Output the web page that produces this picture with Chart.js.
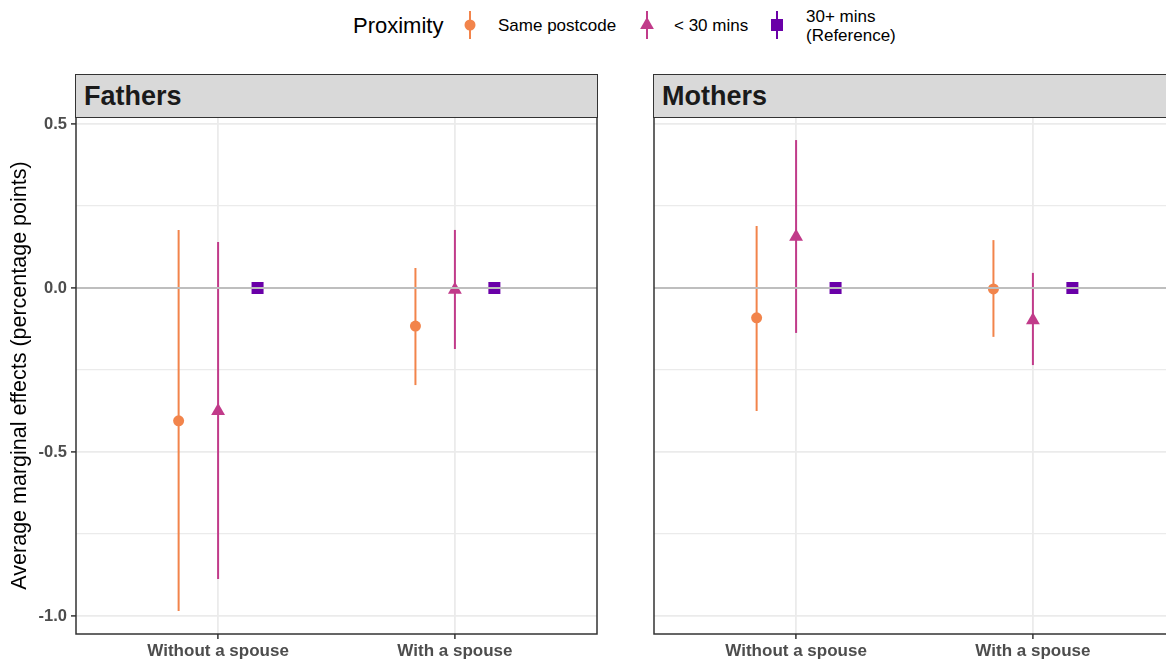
<!DOCTYPE html>
<html>
<head>
<meta charset="utf-8">
<script src="https://cdn.jsdelivr.net/npm/chart.js@4.4.1/dist/chart.umd.min.js"></script>
<style>
    body {
        margin: 0;
        width: 1166px;
        height: 664px;
        overflow: hidden;
        background: #fff;
        position: relative;
        font-family: "Liberation Sans", Arial, sans-serif;
    }

    canvas {
        position: absolute;
        top: 116px;
    }

    .strip {
        position: absolute;
        top: 74px;
        height: 44px;
        box-sizing: border-box;
        background: #D9D9D9;
        border: 1.5px solid #333;
        color: #1A1A1A;
        font-weight: bold;
        font-size: 27px;
        line-height: 42px;
        padding-left: 8px;
        z-index: 2;
    }

    .leg {
        position: absolute;
        color: #000;
        white-space: nowrap;
    }
</style>
</head>
<body>

<div class="leg" style="left:353px; top:13px; font-size:22px;">Proximity</div>

<svg class="leg" style="left:460px; top:11px;" width="20" height="30">
    <line x1="10" y1="0" x2="10" y2="28" stroke="#F2844B" stroke-width="2"/>
    <circle cx="10" cy="14" r="5.5" fill="#F2844B"/>
</svg>
<div class="leg" style="left:498px; top:16px; font-size:17px;">Same postcode</div>

<svg class="leg" style="left:637px; top:11px;" width="20" height="30">
    <line x1="10" y1="0" x2="10" y2="28" stroke="#C13B8A" stroke-width="2"/>
    <polygon points="10,6 16.9,18 3.1,18" fill="#C13B8A"/>
</svg>
<div class="leg" style="left:674px; top:16px; font-size:17px;">&lt; 30 mins</div>

<svg class="leg" style="left:767px; top:11px;" width="20" height="30">
    <line x1="10" y1="0" x2="10" y2="28" stroke="#6A00A8" stroke-width="2"/>
    <rect x="4" y="8" width="12" height="12" fill="#6A00A8"/>
</svg>
<div class="leg" style="left:806px; top:7px; font-size:17px; line-height:19px;">30+ mins<br>(Reference)</div>

<div class="strip" style="left:75px; width:523px;">Fathers</div>
<div class="strip" style="left:653px; width:523px;">Mothers</div>

<canvas id="fathersChart" width="600" height="548" style="left:0px;"></canvas>
<canvas id="mothersChart" width="576" height="548" style="left:600px;"></canvas>

<script>
const categories = ["Without a spouse", "With a spouse"];

const groupNames = ["Same postcode", "< 30 mins", "30+ mins (Reference)"];

const yTicks = [-1, -0.75, -0.5, -0.25, 0, 0.25, 0.5];
const yMajor = [-1, -0.5, 0, 0.5];

// Fathers
const fathersSameEst = [-0.405, -0.116];
const fathersSameLo = [-0.985, -0.296];
const fathersSameHi = [0.177, 0.061];

const fathersNearEst = [-0.375, -0.005];
const fathersNearLo = [-0.887, -0.186];
const fathersNearHi = [0.140, 0.177];

const fathersRefEst = [0, 0];

// Mothers
const mothersSameEst = [-0.091, -0.003];
const mothersSameLo = [-0.375, -0.149];
const mothersSameHi = [0.189, 0.146];

const mothersNearEst = [0.156, -0.098];
const mothersNearLo = [-0.137, -0.235];
const mothersNearHi = [0.451, 0.046];

const mothersRefEst = [0, 0];

const colors = ["#F2844B", "#C13B8A", "#6A00A8"];
const shapes = ["circle", "triangle", "rect"];
const sizes = [5.5, 8, 8.5];
const dodge = [-1 / 6, 0, 1 / 6];

const FONT = "'Liberation Sans', Arial, sans-serif";

const panelBorder = {
    id: "panelBorder",
    afterDraw(chart) {
        const a = chart.chartArea;
        const ctx = chart.ctx;
        ctx.save();
        ctx.strokeStyle = "#333";
        ctx.lineWidth = 1.5;
        ctx.strokeRect(a.left, a.top, a.right - a.left, a.bottom - a.top);
        ctx.restore();
    }
};

function isMajor(v) {
    return yMajor.some(m => Math.abs(m - v) < 1e-9);
}

function buildDatasets(est, lo, hi) {

    const ds = [];

    // zero reference line, drawn on top
    ds.push({
        data: [{ x: 0.4, y: 0 }, { x: 2.6, y: 0 }],
        showLine: true,
        borderColor: "#BEBEBE",
        borderWidth: 2,
        pointRadius: 0
    });

    // points
    est.forEach((vals, g) => {
        ds.push({
            label: groupNames[g],
            data: vals.map((v, i) => ({ x: i + 1 + dodge[g], y: v })),
            pointStyle: shapes[g],
            pointRadius: sizes[g],
            backgroundColor: colors[g],
            borderColor: colors[g],
            borderWidth: 0
        });
    });

    // confidence intervals
    lo.forEach((vals, g) => {
        vals.forEach((v, i) => {
            ds.push({
                data: [
                    { x: i + 1 + dodge[g], y: v },
                    { x: i + 1 + dodge[g], y: hi[g][i] }
                ],
                showLine: true,
                borderColor: colors[g],
                borderWidth: 2,
                pointRadius: 0
            });
        });
    });

    return ds;
}

function makeChart(id, est, lo, hi, showY, area) {

    const ctx = document.getElementById(id).getContext("2d");

    const chart = new Chart(ctx, {

        type: "scatter",

        data: {
            datasets: buildDatasets(est, lo, hi)
        },

        plugins: [panelBorder],

        options: {

            responsive: false,
            animation: false,

            layout: {
                autoPadding: false,
                padding: { top: 1, right: 0, bottom: 0, left: 0 }
            },

            plugins: {
                legend: { display: false },
                tooltip: { enabled: false }
            },

            scales: {

                x: {
                    type: "linear",
                    min: 0.4,
                    max: 2.6,
                    afterBuildTicks: scale => {
                        scale.ticks = categories.map((c, i) => ({ value: i + 1 }));
                    },
                    afterFit: scale => {
                        scale.height = 30;
                        scale.paddingLeft = 0;
                        scale.paddingRight = 0;
                    },
                    border: { display: false },
                    grid: {
                        color: "#EBEBEB",
                        lineWidth: 1.8,
                        tickColor: "#333",
                        tickLength: 5,
                        tickWidth: 1.5
                    },
                    ticks: {
                        autoSkip: false,
                        maxRotation: 0,
                        padding: 2,
                        color: "#4D4D4D",
                        font: { family: FONT, size: 17, weight: "bold" },
                        callback: value => categories[Math.round(value) - 1]
                    }
                },

                y: {
                    type: "linear",
                    min: -1.0549,
                    max: 0.5213,
                    afterBuildTicks: scale => {
                        scale.ticks = yTicks.map(v => ({ value: v }));
                    },
                    afterFit: scale => {
                        scale.width = showY ? 76 : 54;
                        scale.paddingTop = 0;
                        scale.paddingBottom = 0;
                    },
                    border: { display: false },
                    title: {
                        display: showY,
                        text: "Average marginal effects (percentage points)",
                        color: "#000",
                        padding: { top: 7, bottom: 0 },
                        font: { family: FONT, size: 21.5 }
                    },
                    grid: {
                        color: "#EBEBEB",
                        lineWidth: c => isMajor(c.tick.value) ? 1.8 : 1.2,
                        drawTicks: showY,
                        tickColor: c => isMajor(c.tick.value) ? "#333" : "rgba(0,0,0,0)",
                        tickLength: 5,
                        tickWidth: 1.5
                    },
                    ticks: {
                        display: showY,
                        autoSkip: false,
                        padding: 4,
                        color: "#4D4D4D",
                        font: { family: FONT, size: 16.5, weight: "bold" },
                        callback: value => isMajor(value) ? value.toFixed(1) : ""
                    }
                }
            }
        }
    });

    // nudge the layout padding so the plot area lands where the panel is
    const a = chart.chartArea;
    chart.options.layout.padding = {
        top: 1 + area.top - a.top,
        left: area.left - a.left,
        right: a.right - area.right,
        bottom: a.bottom - area.bottom
    };
    chart.update();

    return chart;
}

makeChart(
    "fathersChart",
    [fathersSameEst, fathersNearEst, fathersRefEst],
    [fathersSameLo, fathersNearLo],
    [fathersSameHi, fathersNearHi],
    true,
    { left: 76, top: 1, right: 597, bottom: 518 }
);

makeChart(
    "mothersChart",
    [mothersSameEst, mothersNearEst, mothersRefEst],
    [mothersSameLo, mothersNearLo],
    [mothersSameHi, mothersNearHi],
    false,
    { left: 54, top: 1, right: 575, bottom: 518 }
);
</script>
</body>
</html>
